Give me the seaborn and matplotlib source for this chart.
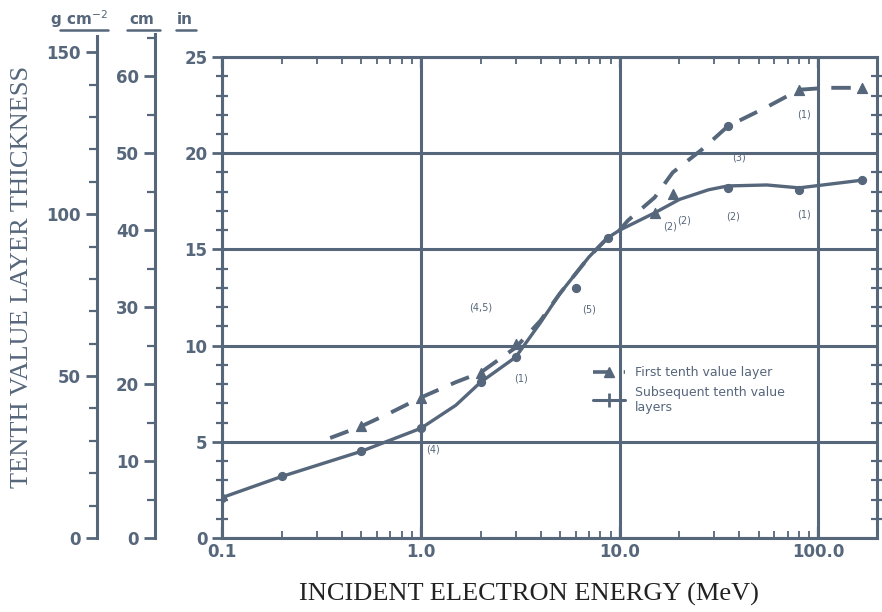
import matplotlib
matplotlib.use("Agg")
import matplotlib.pyplot as plt
from matplotlib.lines import Line2D
from matplotlib.ticker import MultipleLocator, NullFormatter
import seaborn as sns

sns.set_style("white")
plt.rcParams["font.family"] = ["DejaVu Sans"]

INK = "#56667b"

# subsequent tenth value layers (solid curve)
solid_energy = [0.1, 0.2, 0.5, 1.0, 1.5, 2.0, 3.0, 4.0, 5.0, 7.0, 8.7, 10.0, 15.0, 20.0, 28.0, 35.0, 55.0, 80.0, 166.0]
solid_tvl = [2.1, 3.2, 4.5, 5.7, 6.9, 8.1, 9.4, 11.2, 12.7, 14.6, 15.6, 16.0, 16.9, 17.6, 18.1, 18.3, 18.35, 18.2, 18.6]

# first tenth value layer (dashed curve)
first_energy = [0.35, 0.5, 0.7, 1.0, 1.5, 2.0, 3.0, 4.0, 5.0, 7.0, 8.7, 10.0, 11.0, 15.0, 18.5, 26.0, 35.0, 55.0, 80.0, 110.0, 166.0]
first_tvl = [5.2, 5.8, 6.5, 7.3, 8.1, 8.6, 9.9, 11.3, 12.7, 14.6, 15.6, 16.0, 16.5, 17.7, 19.0, 20.2, 21.4, 22.4, 23.3, 23.4, 23.4]

# measured points
dot_energy = [0.1, 0.2, 0.5, 1.0, 2.0, 3.0, 6.0, 8.7, 35.0, 80.0, 166.0, 35.0]
dot_tvl = [2.1, 3.2, 4.5, 5.7, 8.1, 9.4, 13.0, 15.6, 18.2, 18.1, 18.6, 21.4]
tri_energy = [0.5, 1.0, 2.0, 3.0, 15.0, 18.5, 80.0, 166.0]
tri_tvl = [5.8, 7.3, 8.6, 10.1, 16.9, 17.9, 23.3, 23.4]

# reference numbers written next to the points
ref_labels = ["(1)", "(4,5)", "(5)", "(4)", "(2)", "(2)", "(3)", "(1)", "(1)", "(2)"]
ref_energy = [3.2, 2.0, 7.0, 1.15, 18.0, 37.0, 40.0, 85.0, 85.0, 21.0]
ref_tvl = [8.3, 12.0, 11.9, 4.6, 16.2, 16.7, 19.8, 16.8, 22.0, 16.5]

fig = plt.figure(figsize=(8.82, 6.12), dpi=100)

# main axis (inches)
ax = fig.add_axes([0.2517, 0.1209, 0.7426, 0.7859])
sns.lineplot(x=solid_energy, y=solid_tvl, ax=ax, color=INK, linewidth=2.4,
             label="Subsequent tenth value\nlayers", sort=False)
sns.lineplot(x=first_energy, y=first_tvl, ax=ax, color=INK, linewidth=2.8,
             linestyle=(0, (5, 3.5)), label="First tenth value layer", sort=False)
ax.scatter(dot_energy, dot_tvl, s=32, color=INK, zorder=4)
ax.scatter(tri_energy, tri_tvl, s=50, marker="^", color=INK, zorder=4)
for lab, e, t in zip(ref_labels, ref_energy, ref_tvl):
    ax.text(e, t, lab, fontsize=7, color=INK, ha="center", va="center")

ax.set_xscale("log")
ax.set_xlim(0.1, 197)
ax.set_ylim(0, 25)
ax.set_xticks([0.1, 1, 10, 100])
ax.set_xticklabels(["0.1", "1.0", "10.0", "100.0"])
ax.xaxis.set_minor_formatter(NullFormatter())
ax.yaxis.set_major_locator(MultipleLocator(5))
ax.yaxis.set_minor_locator(MultipleLocator(1))
ax.grid(True, which="major", color=INK, linewidth=2.2)
ax.tick_params(axis="both", which="major", colors=INK, labelsize=12, labelcolor=INK)
ax.tick_params(axis="y", which="major", direction="inout", length=14, width=2.0, left=True)
ax.tick_params(axis="y", which="minor", direction="inout", length=8, width=1.6, color=INK,
               left=True, right=True)
ax.tick_params(axis="x", which="major", direction="in", length=8, width=1.6, top=True, bottom=True)
ax.tick_params(axis="x", which="minor", direction="in", length=5, width=1.3, color=INK,
               top=True, bottom=True)
for t in ax.get_xticklabels() + ax.get_yticklabels():
    t.set_fontweight("bold")
for sp in ax.spines.values():
    sp.set_color(INK)
    sp.set_linewidth(2.2)
ax.set_xlabel("")
ax.set_ylabel("")

handles = [Line2D([], [], color=INK, lw=2.6, ls=(0, (5, 3.5)), marker="^", ms=7),
           Line2D([], [], color=INK, lw=2.2, marker="|", ms=10, mew=2)]
ax.legend(handles, ["First tenth value layer", "Subsequent tenth value\nlayers"],
          loc="upper left", bbox_to_anchor=(0.55, 0.38), frameon=False,
          fontsize=9, labelcolor=INK, handlelength=2.5)

# extra scales: cm and g cm^-2
def side_axis(left, height, top_val, major, minor):
    a = fig.add_axes([left, 0.1209, 0.0005, height])
    a.patch.set_alpha(0)
    for name, sp in a.spines.items():
        sp.set_visible(name == "left")
    a.spines["left"].set_color(INK)
    a.spines["left"].set_linewidth(2.2)
    a.set_ylim(0, top_val)
    a.set_xticks([])
    a.yaxis.set_major_locator(MultipleLocator(major))
    a.yaxis.set_minor_locator(MultipleLocator(minor))
    a.tick_params(axis="y", which="major", direction="out", length=8, width=2.0,
                  colors=INK, labelsize=12, left=True)
    a.tick_params(axis="y", which="minor", direction="out", length=6, width=1.6,
                  color=INK, left=True)
    for t in a.get_yticklabels():
        t.set_fontweight("bold")
    return a

side_axis(155 / 882, (538 - 34) / 612, 65.5, 10, 5)
side_axis(97 / 882, (538 - 36) / 612, 155, 50, 10)

# unit headings
fig.text(79 / 882, 1 - 19 / 612, "g cm$^{-2}$", fontsize=11, color=INK, ha="center",
         va="center", fontweight="bold")
fig.text(142 / 882, 1 - 19 / 612, "cm", fontsize=11, color=INK, ha="center", va="center",
         fontweight="bold")
fig.text(185 / 882, 1 - 19 / 612, "in", fontsize=11, color=INK, ha="center", va="center",
         fontweight="bold")
for x0, x1 in [(60, 108), (127, 160), (176, 196)]:
    fig.add_artist(Line2D([x0 / 882, x1 / 882], [1 - 30 / 612, 1 - 30 / 612], color=INK, lw=1.8))

fig.text(0.025, 0.547, "TENTH VALUE LAYER THICKNESS", rotation=90, fontsize=19,
         family="Liberation Serif", color=INK, ha="center", va="center")
fig.text(0.60, 0.028, "INCIDENT ELECTRON ENERGY (MeV)", fontsize=19,
         family="Liberation Serif", color="#222222", ha="center", va="center")

fig.savefig("out.png", dpi=100)
